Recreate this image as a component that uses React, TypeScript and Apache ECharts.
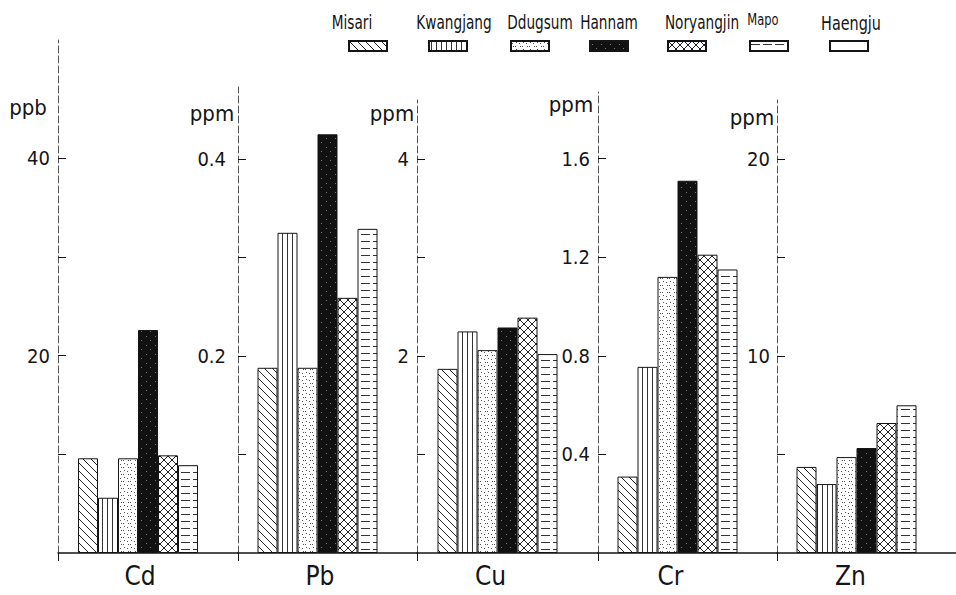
import React, { useEffect, useRef } from "react";
import * as echarts from "echarts";

// ---- data ----
const categories = ["Cd", "Pb", "Cu", "Cr", "Zn"];
const sites = ["Misari", "Kwangjang", "Ddugsum", "Hannam", "Noryangjin", "Mapo", "Haengju"];
const units = ["ppb", "ppm", "ppm", "ppm", "ppm"];
const cdValues = [9.6, 5.6, 9.6, 22.6, 9.9, 8.9, null];
const pbValues = [0.188, 0.325, 0.188, 0.425, 0.259, 0.329, null];
const cuValues = [1.87, 2.25, 2.06, 2.29, 2.39, 2.02, null];
const crValues = [0.31, 0.755, 1.12, 1.51, 1.21, 1.15, null];
const znValues = [4.37, 3.5, 4.87, 5.33, 6.6, 7.5, null];
const panelValues = [cdValues, pbValues, cuValues, crValues, znValues];
const yTickValues = [
  [10, 20, 30, 40],
  [0.1, 0.2, 0.3, 0.4],
  [1, 2, 3, 4],
  [0.4, 0.8, 1.2, 1.6],
  [5, 10, 15, 20],
];
const yLabelValues = [
  [20, 40],
  [0.2, 0.4],
  [2, 4],
  [0.4, 0.8, 1.2, 1.6],
  [10, 20],
];
const yMax = [52, 0.473, 4.6, 1.87, 23];

// ---- layout ----
const panelLeft = [58, 238, 417, 598, 777];
const panelWidth = [180, 179, 181, 179, 179];
const panelTop = [40, 87, 100, 92, 100];
const panelBottom = 42;
const catLabelShift = [16, 15, 34, 34, 32];
const yLabelMargin = [8, 12, 8, 8, 7];
const unitPos = [
  [28, 107],
  [212, 113],
  [392, 113],
  [571, 104],
  [752, 117],
];
const legendIconLeft = [348, 428, 510, 589, 667, 749, 829];
const legendTextPos = [
  [352, 22],
  [454, 22],
  [540, 22],
  [609, 22],
  [702, 22],
  [763, 19],
  [851, 23],
];
const legendFontSize = [19, 19, 19, 19, 19, 16, 20];

const FONT = "'Liberation Sans Narrow', 'DejaVu Sans Condensed', 'Noto Sans', sans-serif";
const INK = "#151515";

function makePattern(w: number, h: number, bg: string, draw: (ctx: CanvasRenderingContext2D) => void) {
  const c = document.createElement("canvas");
  c.width = w;
  c.height = h;
  const ctx = c.getContext("2d") as CanvasRenderingContext2D;
  ctx.fillStyle = bg;
  ctx.fillRect(0, 0, w, h);
  draw(ctx);
  return { image: c, repeat: "repeat" } as any;
}

function buildPatterns() {
  const diag = makePattern(8, 8, "#fff", (ctx) => {
    ctx.strokeStyle = "#222";
    ctx.lineWidth = 1;
    for (const k of [-8, 0, 8]) {
      ctx.beginPath();
      ctx.moveTo(-2, -2 + k);
      ctx.lineTo(10, 10 + k);
      ctx.stroke();
    }
  });
  const vert = makePattern(5, 6, "#fff", (ctx) => {
    ctx.strokeStyle = "#333";
    ctx.lineWidth = 1;
    ctx.beginPath();
    ctx.moveTo(2.5, 0);
    ctx.lineTo(2.5, 6);
    ctx.stroke();
  });
  const dots = makePattern(7, 7, "#fff", (ctx) => {
    ctx.fillStyle = "#555";
    ctx.fillRect(1, 2, 1, 1);
    ctx.fillRect(4, 5, 1, 1);
    ctx.fillRect(5, 1, 1, 1);
    ctx.fillRect(2, 5, 1, 1);
  });
  const black = makePattern(9, 9, "#111", (ctx) => {
    ctx.fillStyle = "#777";
    ctx.fillRect(2, 3, 1, 1);
    ctx.fillRect(6, 7, 1, 1);
  });
  const cross = makePattern(8, 8, "#fff", (ctx) => {
    ctx.strokeStyle = "#222";
    ctx.lineWidth = 1;
    for (const k of [-8, 0, 8]) {
      ctx.beginPath();
      ctx.moveTo(-2, -2 + k);
      ctx.lineTo(10, 10 + k);
      ctx.stroke();
      ctx.beginPath();
      ctx.moveTo(-2, 10 + k);
      ctx.lineTo(10, -2 + k);
      ctx.stroke();
    }
  });
  const horiz = makePattern(12, 7, "#fff", (ctx) => {
    ctx.strokeStyle = "#333";
    ctx.lineWidth = 1;
    ctx.beginPath();
    ctx.moveTo(1, 3.5);
    ctx.lineTo(10, 3.5);
    ctx.stroke();
  });
  return [diag, vert, dots, black, cross, horiz, "#ffffff"];
}

export default function App() {
  const ref = useRef<HTMLDivElement>(null);

  useEffect(() => {
    document.body.style.margin = "0";
    if (!ref.current) return;
    const chart = echarts.init(ref.current, undefined, { renderer: "svg" });
    const patterns = buildPatterns();

    const grid: any[] = [];
    const xAxis: any[] = [];
    const yAxis: any[] = [];
    const series: any[] = [];

    categories.forEach((cat, p) => {
      grid.push({
        left: panelLeft[p],
        width: panelWidth[p],
        top: panelTop[p],
        bottom: panelBottom,
        containLabel: false,
      });
      xAxis.push({
        type: "category",
        gridIndex: p,
        data: [cat],
        axisLine: { show: true, lineStyle: { color: INK, width: 1.5 } },
        axisTick: { show: true, length: 8, lineStyle: { color: INK } },
        axisLabel: {
          color: INK,
          fontSize: 26,
          fontFamily: FONT,
          margin: 10,
          padding: [0, catLabelShift[p], 0, 0],
        },
      });
      yAxis.push({
        type: "value",
        gridIndex: p,
        min: 0,
        max: yMax[p],
        splitLine: { show: false },
        axisLine: { show: true, lineStyle: { color: "#555", width: 1, type: [7, 3] } },
        axisTick: {
          show: true,
          inside: true,
          length: 8,
          lineStyle: { color: INK },
          customValues: yTickValues[p],
        },
        axisLabel: {
          show: true,
          color: INK,
          fontSize: 20,
          fontFamily: FONT,
          margin: yLabelMargin[p],
          customValues: yLabelValues[p],
        },
      });
      sites.forEach((site, s) => {
        series.push({
          type: "bar",
          name: site,
          xAxisIndex: p,
          yAxisIndex: p,
          data: [panelValues[p][s]],
          barWidth: 20,
          barGap: "0%",
          itemStyle: { color: patterns[s], borderColor: INK, borderWidth: 1 },
        });
      });
    });

    const legend = sites.map((site, s) => ({
      show: true,
      data: [site],
      left: legendIconLeft[s],
      top: 40,
      padding: 0,
      itemWidth: 38,
      itemHeight: 10,
      icon: "rect",
      selectedMode: false,
      formatter: () => "",
      textStyle: { fontSize: 1 },
    }));

    const graphic: any[] = [];
    units.forEach((u, p) => {
      graphic.push({
        type: "text",
        x: unitPos[p][0],
        y: unitPos[p][1],
        style: {
          text: u,
          fill: INK,
          font: `22px ${FONT}`,
          textAlign: "center",
          textVerticalAlign: "middle",
        },
      });
    });
    sites.forEach((site, s) => {
      graphic.push({
        type: "text",
        x: legendTextPos[s][0],
        y: legendTextPos[s][1],
        scaleX: 0.8,
        style: {
          text: site,
          fill: INK,
          font: `${legendFontSize[s]}px ${FONT}`,
          textAlign: "center",
          textVerticalAlign: "middle",
        },
      });
    });

    chart.setOption({
      animation: false,
      backgroundColor: "#ffffff",
      grid,
      xAxis,
      yAxis,
      series,
      legend,
      graphic,
    });
    return () => chart.dispose();
  }, []);

  return <div ref={ref} style={{ width: 956, height: 595 }} />;
}
